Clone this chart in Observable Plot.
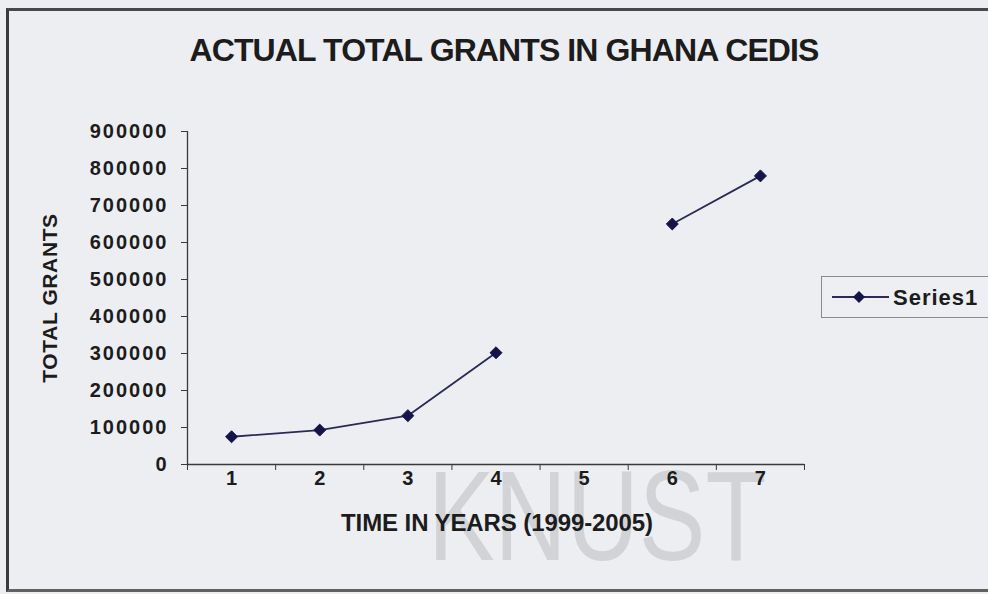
<!DOCTYPE html>
<html>
<head>
<meta charset="utf-8">
<script src="https://cdn.jsdelivr.net/npm/d3@7"></script>
<script src="https://cdn.jsdelivr.net/npm/@observablehq/plot@0.6"></script>
<style>
html, body { margin: 0; padding: 0; background: #ffffff; }
#wrap { position: relative; width: 988px; height: 594px; overflow: hidden; background: #eceef2; font-family: "Liberation Sans", Arial, sans-serif; color: #1c1c1c; }
#frame { position: absolute; left: 6px; top: 8px; width: 990px; height: 578px; border-left: 3px solid #3a3a3a; border-top: 3px solid #484848; border-bottom: 3px solid #606060; }
#watermark { position: absolute; left: 428px; top: 452px; font-size: 128px; line-height: 1; color: #d2d3d7; transform: scaleX(0.78); transform-origin: 0 0; }
#title { position: absolute; left: 0; top: 32px; width: 1008px; text-align: center; font-size: 32px; font-weight: bold; letter-spacing: -0.9px; }
#ytitle { position: absolute; left: 50px; top: 298px; transform: translate(-50%, -50%) rotate(-90deg); font-size: 21px; font-weight: bold; letter-spacing: 0.6px; white-space: nowrap; }
#xtitle { position: absolute; left: 0; top: 509px; width: 994px; text-align: center; font-size: 24px; font-weight: bold; letter-spacing: -0.1px; }
#legend { position: absolute; left: 821px; top: 276px; width: 170px; height: 40px; border: 1.5px solid #8a8a8a; background: #edeff3; }
#legend svg { position: absolute; left: 8px; top: 10px; }
#legend span { position: absolute; left: 71px; top: 8px; font-size: 22px; font-weight: bold; letter-spacing: 1px; }
#chart { position: absolute; left: 0; top: 0; }
#chart svg { background: transparent; overflow: visible; }
#chart g[aria-label="y-axis tick label"] text { letter-spacing: 2px; font-weight: bold; }
#chart g[aria-label="x-axis tick label"] text { font-weight: bold; }
</style>
</head>
<body>
<div id="wrap">
  <div id="frame"></div>
  <div id="watermark">KNUST</div>
  <div id="title">ACTUAL TOTAL GRANTS IN GHANA CEDIS</div>
  <div id="ytitle">TOTAL GRANTS</div>
  <div id="xtitle">TIME IN YEARS (1999-2005)</div>
  <div id="chart"></div>
  <div id="legend"></div>
</div>
<script>
// ---- data ----
const years = [1, 2, 3, 4, 5, 6, 7];
const totalGrants = [75000, 93000, 132000, 302000, null, 650000, 780000];
const yTicks = [0, 100000, 200000, 300000, 400000, 500000, 600000, 700000, 800000, 900000];
const seriesName = "Series1";

const navy = "#14144a";
const lineColor = "#2a2a55";

const rows = years.map((t, i) => ({year: t, grants: totalGrants[i]}));
const pointsOnly = rows.filter(d => d.grants != null);
// category boundaries (Excel-style ticks between categories)
const bounds = [years[0] - 0.5, ...years.map(t => t + 0.5)];

const chart = Plot.plot({
  width: 988,
  height: 594,
  marginLeft: 187,
  marginRight: 184,
  marginTop: 131,
  marginBottom: 130,
  style: {fontFamily: "'Liberation Sans', Arial, sans-serif", color: "#1c1c1c", background: "transparent"},
  x: {type: "linear", domain: [bounds[0], bounds[bounds.length - 1]]},
  y: {domain: [0, 900000]},
  marks: [
    Plot.ruleX([bounds[0]], {stroke: "#3a3a3a", strokeWidth: 1.3}),
    Plot.ruleY([0], {stroke: "#3a3a3a", strokeWidth: 1.3}),
    Plot.axisY({ticks: yTicks, tickSize: 6, tickPadding: 13, tickFormat: d3.format("d"), label: null, fontSize: 20, stroke: "#3a3a3a"}),
    Plot.axisX({ticks: bounds, tickSize: 6, tickFormat: () => "", label: null, stroke: "#3a3a3a"}),
    Plot.axisX({ticks: years, tickSize: 0, tickPadding: 6, tickFormat: d3.format("d"), label: null, fontSize: 20}),
    Plot.line(rows, {x: "year", y: "grants", stroke: lineColor, strokeWidth: 1.8}),
    Plot.dot(pointsOnly, {x: "year", y: "grants", symbol: "diamond2", r: 5.4, fill: navy, stroke: navy, strokeWidth: 1})
  ]
});
document.getElementById("chart").appendChild(chart);

// legend
const leg = document.getElementById("legend");
leg.innerHTML = `<svg width="60" height="20"><line x1="2" y1="10" x2="59" y2="10" stroke="${lineColor}" stroke-width="2"/><path d="M29,4 L35,10 L29,16 L23,10 Z" fill="${navy}"/></svg><span>${seriesName}</span>`;
</script>
</body>
</html>
